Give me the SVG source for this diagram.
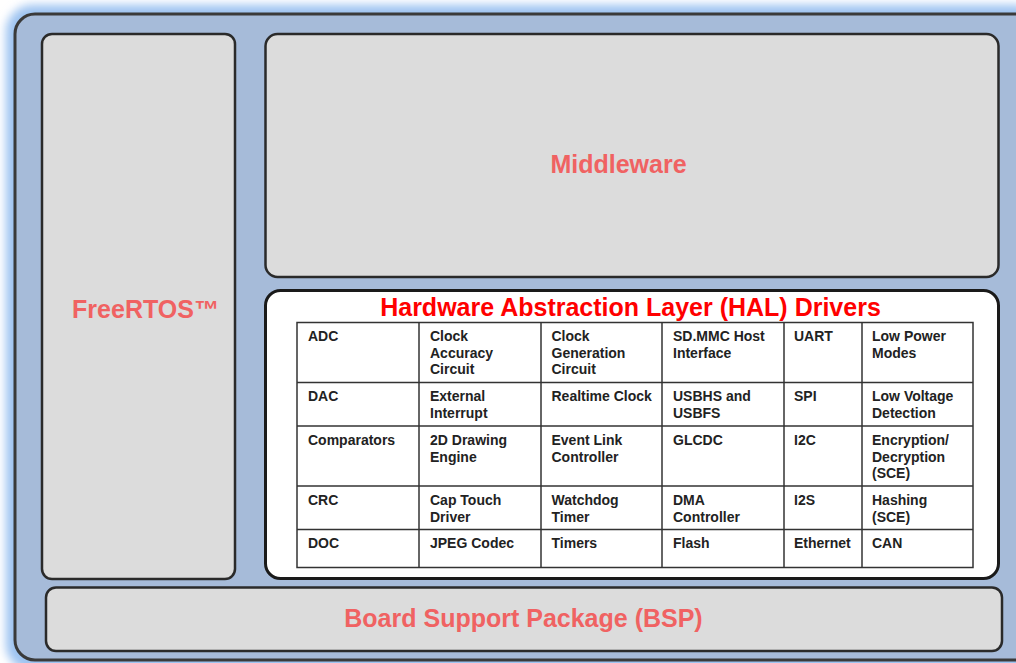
<svg xmlns="http://www.w3.org/2000/svg" width="1016" height="663" viewBox="0 0 1016 663">
<defs>
<filter id="glow" x="-5%" y="-5%" width="110%" height="110%">
<feGaussianBlur stdDeviation="4"/>
</filter>
<style>
.lbl{font-family:"Liberation Sans",Arial,sans-serif;font-weight:bold;fill:#f06262;font-size:25px;text-anchor:middle}
.cell{font-family:"Liberation Sans",Arial,sans-serif;font-weight:bold;fill:#222;font-size:14px}
.grid line{stroke:#333;stroke-width:1.5}
.box{fill:#dcdcdc;stroke:#2a2a2a;stroke-width:2.5}
</style>
</defs>
<rect width="1016" height="663" fill="#ffffff"/>
<g id="outer">
<rect x="7" y="6" width="1034" height="664" rx="26" fill="#9cc2f0" stroke="#b3d1f5" stroke-width="4" filter="url(#glow)"/>
<rect x="15" y="14" width="1020" height="646" rx="20" fill="#a6bbd9" stroke="#3a3a3a" stroke-width="3"/>
</g>
<g id="freertos">
<rect class="box" x="42" y="34" width="193" height="545" rx="10"/>
<text class="lbl" x="145.5" y="318">FreeRTOS™</text>
</g>
<g id="middleware">
<rect class="box" x="265.5" y="34" width="733" height="243" rx="12" stroke="#111"/>
<text class="lbl" x="618.5" y="173">Middleware</text>
</g>
<g id="bsp">
<rect class="box" x="46" y="587.5" width="956" height="63.5" rx="10"/>
<text class="lbl" x="523.5" y="627">Board Support Package (BSP)</text>
</g>
<g id="hal">
<rect x="265.5" y="290.5" width="733" height="288" rx="15" fill="#ffffff" stroke="#1a1a1a" stroke-width="3"/>
<text x="630.5" y="316" font-family="Liberation Sans, Arial, sans-serif" font-weight="bold" font-size="25" fill="#ff0000" text-anchor="middle">Hardware Abstraction Layer (HAL) Drivers</text>
<g class="grid">
<rect x="297" y="322.5" width="676" height="245" fill="#fff" stroke="#333" stroke-width="1.5"/>
<line x1="419" y1="322.5" x2="419" y2="567.5"/>
<line x1="541" y1="322.5" x2="541" y2="567.5"/>
<line x1="662" y1="322.5" x2="662" y2="567.5"/>
<line x1="784" y1="322.5" x2="784" y2="567.5"/>
<line x1="862" y1="322.5" x2="862" y2="567.5"/>
<line x1="297" y1="382.5" x2="973" y2="382.5"/>
<line x1="297" y1="426" x2="973" y2="426"/>
<line x1="297" y1="486" x2="973" y2="486"/>
<line x1="297" y1="529.5" x2="973" y2="529.5"/>
</g>
<g class="cell">
<text x="308" y="341">ADC</text>
<text x="430" y="341">Clock<tspan x="430" dy="16.7">Accuracy</tspan><tspan x="430" dy="16.7">Circuit</tspan></text>
<text x="551.5" y="341">Clock<tspan x="551.5" dy="16.7">Generation</tspan><tspan x="551.5" dy="16.7">Circuit</tspan></text>
<text x="673" y="341">SD.MMC Host<tspan x="673" dy="16.7">Interface</tspan></text>
<text x="794" y="341">UART</text>
<text x="872" y="341">Low Power<tspan x="872" dy="16.7">Modes</tspan></text>

<text x="308" y="401">DAC</text>
<text x="430" y="401">External<tspan x="430" dy="16.7">Interrupt</tspan></text>
<text x="551.5" y="401">Realtime Clock</text>
<text x="673" y="401">USBHS and<tspan x="673" dy="16.7">USBFS</tspan></text>
<text x="794" y="401">SPI</text>
<text x="872" y="401">Low Voltage<tspan x="872" dy="16.7">Detection</tspan></text>

<text x="308" y="445">Comparators</text>
<text x="430" y="445">2D Drawing<tspan x="430" dy="16.7">Engine</tspan></text>
<text x="551.5" y="445">Event Link<tspan x="551.5" dy="16.7">Controller</tspan></text>
<text x="673" y="445">GLCDC</text>
<text x="794" y="445">I2C</text>
<text x="872" y="445">Encryption/<tspan x="872" dy="16.7">Decryption</tspan><tspan x="872" dy="16.7">(SCE)</tspan></text>

<text x="308" y="505">CRC</text>
<text x="430" y="505">Cap Touch<tspan x="430" dy="16.7">Driver</tspan></text>
<text x="551.5" y="505">Watchdog<tspan x="551.5" dy="16.7">Timer</tspan></text>
<text x="673" y="505">DMA<tspan x="673" dy="16.7">Controller</tspan></text>
<text x="794" y="505">I2S</text>
<text x="872" y="505">Hashing<tspan x="872" dy="16.7">(SCE)</tspan></text>

<text x="308" y="548">DOC</text>
<text x="430" y="548">JPEG Codec</text>
<text x="551.5" y="548">Timers</text>
<text x="673" y="548">Flash</text>
<text x="794" y="548">Ethernet</text>
<text x="872" y="548">CAN</text>
</g>
</g>
<g id="connectors"/>
</svg>
